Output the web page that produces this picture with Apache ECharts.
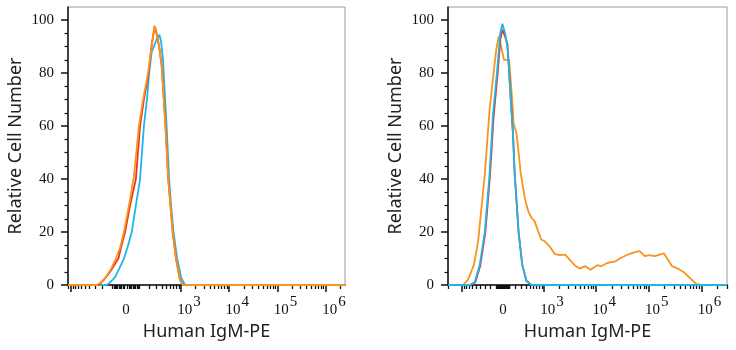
<!DOCTYPE html>
<html>
<head>
<meta charset="utf-8">
<script src="https://cdn.jsdelivr.net/npm/echarts@6/dist/echarts.min.js"></script>
<style>
html,body{margin:0;padding:0;background:#fff;}
#chart{width:736px;height:350px;}
</style>
</head>
<body>
<div id="chart"></div>
<script>
// ---- Data (x in display channels 0..1000 of a biexponential axis, y = relative cell number) ----
// Left panel
const L_orange_x = [0,105,119,137,155,173,188,202,220,238,256,271,289,300,307,312,318,329,338,343,352,362,370,378,390,404,414,1000];
const L_orange_y = [0,0,1,3,6,10,14,20,30,41,60,70,80,88,94,98,96,90,83,75,60,40,30,20,10,2,0,0];
const L_red_x = [0,112,130,152,182,191,206,224,245,260,274,291,301,309,313,318,329,338,343,352,362,370,378,390,404,414,1000];
const L_red_y = [0,0,2,5,10,14,20,30,40,60,70,80,90,95,97.5,96,90,83,75,60,40,30,20,10,2,0,0];
const L_cyan_x = [0,140,152,170,184,202,217,230,245,260,274,285,293,302,310,321,330,336,343,348,356,365,372,381,394,408,422,1000];
const L_cyan_y = [0,0,1,3,6,10,15,20,30,40,60,70,80,88,90,93,94.5,92,85,75,60,40,30,20,10,3,0,0];
// Right panel
const R_cyan_x = [0,78,96,114,132,149,161,177,187,195,205,215,225,233,239,253,266,281,299,1000];
const R_cyan_y = [0,0,1,7.7,20,42,64,82,95,98.7,95,88,70,57,42,20,7.7,1.6,0,0];
const R_red_x = [0,80,98,116,134,151,163,178,188,195,204,213,224,233,239,253,266,281,299,1000];
const R_red_y = [0,0,1,7.5,20,42,63,80,93,96.5,94,91,72,57,42,20,7.7,1.6,0,0];
const R_orange_x = [0,54,72,93,108,132,149,159,173,182,201,219,230,235,245,251,261,275,287,299,311,323,334,347,364,382,400,420,436,454,472,492,511,535,549,573,597,621,645,669,687,705,723,741,759,774,788,803,824,848,872,890,908,1000];
const R_orange_y = [0,0,2,7.7,16.5,42,66,76,89,94,85,85,70,61,57.5,52,42,33,28,25.4,24,20.3,17.2,16.5,14.6,11.8,11.3,11.5,9.6,7.5,6.2,7.1,5.8,7.5,7.1,8.4,8.8,10.3,11.5,12.4,12.8,10.9,11.3,10.9,11.5,11.9,9.6,7.1,6.2,4.6,2.1,0.4,0,0];

// Tick labels / values
const xLabelValues = [0, 1e3, 1e4, 1e5, 1e6];
const xMajorValues = [-1e3, 1e3, 1e4, 1e5, 1e6];
const yLabelValues = [0, 20, 40, 60, 80, 100];
const yMinorStep = 5;
const axisTitleX = 'Human IgM-PE';
const axisTitleY = 'Relative Cell Number';

// biexponential (asinh) display transform parameters per panel
const biexLeft = {z0: 209.4, k: 75.8, c: 146.7};
const biexRight = {z0: 197.1, k: 82.1, c: 343};

const COLORS = {orange: '#F7941D', red: '#EE3124', cyan: '#1DB6E8'};
const SERIF = 'Liberation Serif';
const SANS = 'Noto Sans';

function chan(p, v) { return p.z0 + p.k * Math.asinh(v / p.c); }
function pairs(xs, ys) { return xs.map((x, i) => [x, ys[i]]); }

function minorValues(p) {
  const out = [0];
  for (let n = 1; n <= 6; n++) {
    for (let m = 1; m <= 9; m++) {
      const v = m * Math.pow(10, n);
      [v, -v].forEach(t => {
        if (xMajorValues.indexOf(t) >= 0) return;
        const c = chan(p, t);
        if (c >= 0 && c <= 1000) out.push(c);
      });
    }
  }
  return out;
}

function xAxes(p, gridIndex) {
  const labelMap = {};
  xLabelValues.forEach(v => { labelMap[chan(p, v).toFixed(4)] = v; });
  const majors = xMajorValues.map(v => chan(p, v)).filter(c => c >= 0 && c <= 1000);
  const tstyle = {fontFamily: SERIF, fontSize: 15, lineHeight: 17, color: '#111'};
  return [
    {
      type: 'value', gridIndex, position: 'bottom', min: 0, max: 1000,
      axisLine: {show: true, onZero: false, lineStyle: {color: '#111', width: 1.5}},
      axisTick: {show: true, customValues: majors, length: 7, lineStyle: {color: '#111', width: 1.5}},
      splitLine: {show: false},
      axisLabel: {
        show: true, margin: 13,
        customValues: xLabelValues.map(v => chan(p, v)),
        formatter: function (val) {
          const v = labelMap[Number(val).toFixed(4)];
          if (v === 0) return '{b|0}';
          return '{p|10}{s|' + Math.round(Math.log10(v)) + '}';
        },
        rich: {
          b: Object.assign({}, tstyle, {padding: [8, 0, 0, 0]}),
          p: Object.assign({}, tstyle, {padding: [8, 0, 0, 16]}),
          s: Object.assign({}, tstyle, {padding: [0, 0, 8, 1]})
        }
      },
      name: axisTitleX, nameLocation: 'middle', nameGap: 36,
      nameTextStyle: {fontFamily: SANS, fontSize: 18, color: '#222'}
    },
    {
      type: 'value', gridIndex, position: 'bottom', min: 0, max: 1000,
      axisLine: {show: false},
      axisTick: {show: true, customValues: minorValues(p), length: 4, lineStyle: {color: '#111', width: 1.3}},
      axisLabel: {show: false},
      splitLine: {show: false}
    }
  ];
}

function yAxes(gridIndex) {
  const minors = [];
  for (let v = 0; v <= 100; v += yMinorStep) if (yLabelValues.indexOf(v) < 0) minors.push(v);
  return [
    {
      type: 'value', gridIndex, position: 'left', min: 0, max: 105,
      axisLine: {show: true, lineStyle: {color: '#111', width: 1.5}},
      axisTick: {show: true, customValues: yLabelValues, length: 7, lineStyle: {color: '#111', width: 1.5}},
      axisLabel: {show: true, customValues: yLabelValues, margin: 14,
        fontFamily: SERIF, fontSize: 15, color: '#111'},
      splitLine: {show: false},
      name: axisTitleY, nameLocation: 'middle', nameGap: 43,
      nameTextStyle: {fontFamily: SANS, fontSize: 18, color: '#222'}
    },
    {
      type: 'value', gridIndex, position: 'left', min: 0, max: 105,
      axisLine: {show: false},
      axisTick: {show: true, customValues: minors, length: 3.5, lineStyle: {color: '#111', width: 1.2}},
      axisLabel: {show: false},
      splitLine: {show: false}
    }
  ];
}

function line(name, xs, ys, color, xi, yi) {
  return {
    type: 'line', name, data: pairs(xs, ys), xAxisIndex: xi, yAxisIndex: yi,
    showSymbol: false, symbol: 'none', smooth: false, animation: false,
    lineStyle: {color, width: 1.8}, itemStyle: {color}, clip: true
  };
}

const chart = echarts.init(document.getElementById('chart'), null, {renderer: 'canvas'});
chart.setOption({
  animation: false,
  backgroundColor: '#fff',
  grid: [
    {left: 68, top: 7, width: 277, height: 278, show: true, borderColor: '#9a9a9a', borderWidth: 1, backgroundColor: 'transparent'},
    {left: 448, top: 7, width: 279, height: 278, show: true, borderColor: '#9a9a9a', borderWidth: 1, backgroundColor: 'transparent'}
  ],
  xAxis: xAxes(biexLeft, 0).concat(xAxes(biexRight, 1)),
  yAxis: yAxes(0).concat(yAxes(1)),
  series: [
    line('L cyan', L_cyan_x, L_cyan_y, COLORS.cyan, 0, 0),
    line('L red', L_red_x, L_red_y, COLORS.red, 0, 0),
    line('L orange', L_orange_x, L_orange_y, COLORS.orange, 0, 0),
    line('R orange', R_orange_x, R_orange_y, COLORS.orange, 2, 2),
    line('R red', R_red_x, R_red_y, COLORS.red, 2, 2),
    line('R cyan', R_cyan_x, R_cyan_y, COLORS.cyan, 2, 2)
  ]
});
</script>
</body>
</html>
